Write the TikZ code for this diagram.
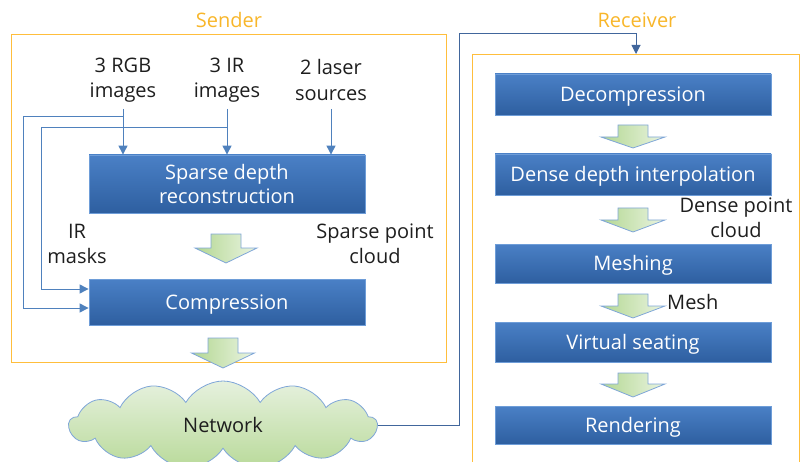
\documentclass[tikz,border=0pt]{standalone}
\usepackage{fontspec}
\setmainfont{Open Sans}
\usetikzlibrary{shapes.symbols,arrows.meta,calc}
\definecolor{orng}{HTML}{FFBE3C}
\definecolor{ttlc}{HTML}{F8B62A}
\definecolor{boxtop}{HTML}{4A80C6}
\definecolor{boxbot}{HTML}{2E5FA0}
\definecolor{boxedge}{HTML}{6E9DD8}
\definecolor{connc}{HTML}{4F81BD}
\definecolor{netc}{HTML}{41669C}
\definecolor{labelc}{HTML}{1E1E1E}
\definecolor{gtop}{HTML}{B3D792}
\definecolor{gbot}{HTML}{EAF4E1}
\definecolor{arredge}{HTML}{7FA6D8}
\definecolor{cltop}{HTML}{E6F1DE}
\definecolor{clbot}{HTML}{B9DA9A}
\newcommand\barrow[5]{%
  \shade[draw=arredge, line width=0.8pt, left color=gtop, right color=gbot]
    (#1-15,#2) -- (#1+15,#2) -- (#1+15,#3) -- (#1+#5,#3) -- (#1,#4)
    -- (#1-#5,#3) -- (#1-15,#3) -- cycle;}
\begin{document}
\begin{tikzpicture}[x=1pt,y=-1pt,
  font=\fontsize{20}{25.5}\selectfont,
  blkbase/.style={draw=boxedge, line width=0.8pt, top color=boxtop, bottom color=boxbot,
    text=white, minimum width=276pt, inner sep=0pt},
  blk/.style={blkbase, align=center},
  blkone/.style={blkbase, text height=18pt, text depth=4pt},
  lbl/.style={text=labelc, align=center, inner sep=1pt},
  conn/.style={draw=connc, line width=1pt, -{Triangle[length=9pt,width=9pt]}},
  grp/.style={draw=orng, line width=1pt, inner sep=0pt},
  ttl/.style={text=ttlc, inner sep=0pt}]
\useasboundingbox (0,0) rectangle (810,462);

% group frames
\node[grp, anchor=north west, minimum width=435pt, minimum height=328pt] (send) at (11,34) {};
\node[grp, anchor=north west, minimum width=327pt, minimum height=430pt] (recv) at (472,54) {};
\node[ttl] (sendt) at (send.north |- 0,20) {Sender};
\node[ttl] (recvt) at (637,20) {Receiver};

% sender
\node[lbl] (rgb) at (123,80) {3 RGB\\images};
\node[lbl] (ir) at (227,80) {3 IR\\images};
\node[lbl] (las) at (331,80) {2 laser\\sources};
\node[blk, minimum height=58pt] (sdr) at (227,184) {Sparse depth\\[-1pt]reconstruction};
\node[blkone, minimum height=46pt] (comp) at (227,302) {Compression};
\node[lbl] (irm) at (77,244) {IR\\masks};
\node[lbl] (spc) at (375,244) {Sparse point\\cloud};

\coordinate (j1) at (123,117);
\coordinate (j2) at (227,128);
\draw[conn] (rgb.south |- 0,109) -- (rgb.south |- sdr.north);
\draw[conn] (ir.south |- 0,109) -- (ir.south |- sdr.north);
\draw[conn] (las.south |- 0,109) -- (las.south |- sdr.north);
\draw[conn] (j1) -| (23,308) -- (comp.west |- 0,308);
\draw[conn] (j2) -| (41,289) -- (comp.west |- 0,289);

\barrow{226}{234}{248}{263}{31}
\barrow{223}{338}{353}{368}{31.5}

% network
\node[cloud, cloud puffs=13, cloud puff arc=120, aspect=3.8, draw=arredge, line width=0.8pt,
  top color=cltop, bottom color=clbot, minimum width=308pt, minimum height=88pt,
  inner sep=0pt, text=labelc] (net) at (223,425) {Network};
\draw[draw=netc, line width=1pt, -{Triangle[length=9pt,width=9pt]}]
  (net.east) -| (459,34) -| (recv.north);

% receiver
\node[blkone, minimum height=41pt] (dec) at (633,94.5) {Decompression};
\node[blkone, minimum height=41pt] (dense) at (633,174.5) {Dense depth interpolation};
\node[blkone, minimum height=39pt] (mesh) at (633,263.5) {Meshing};
\node[blkone, minimum height=40pt] (virt) at (633,342) {Virtual seating};
\node[blkone, minimum height=38pt] (rend) at (633,425) {Rendering};
\node[lbl] (dpc) at (736,218) {Dense point\\cloud};
\node[lbl, anchor=west] (meshl) at (666,302) {Mesh};

\barrow{633}{125}{137}{148}{32}
\barrow{633}{208}{220}{232}{32}
\barrow{633}{294}{306}{318}{32}
\barrow{633}{373}{384}{397}{32}
\end{tikzpicture}
\end{document}
